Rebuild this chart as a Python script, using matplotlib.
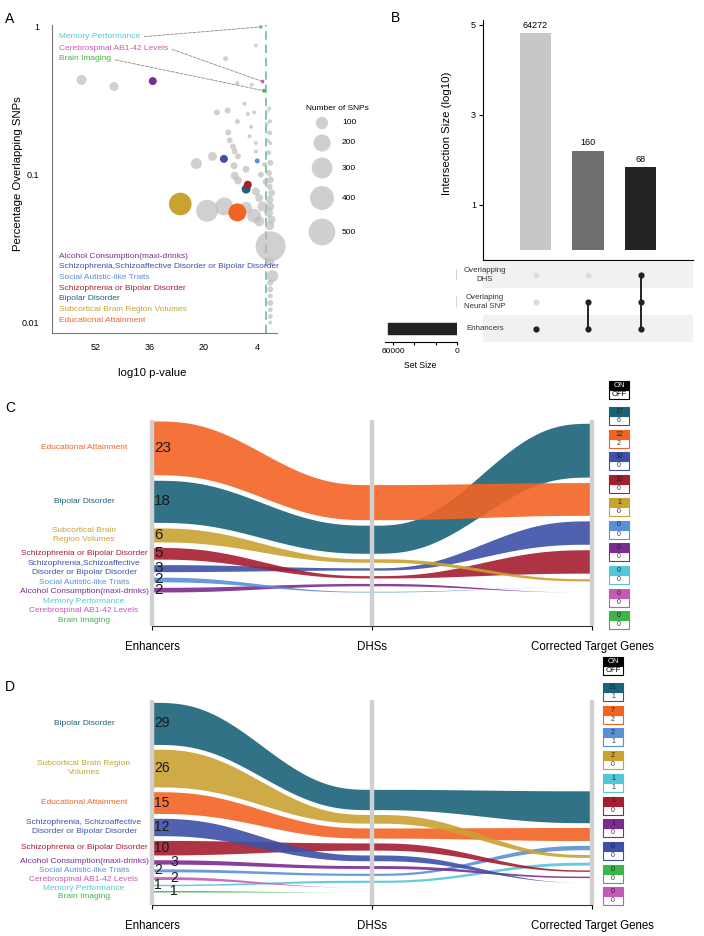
import numpy as np
import matplotlib.pyplot as plt
from matplotlib.patches import Rectangle

plt.rcParams.update({
    "font.family": ["Liberation Sans", "DejaVu Sans"],
    "axes.unicode_minus": False,
})

W, H = 704, 936

# ---------------- shared trait info ----------------
keys = ["edu", "bip", "sub", "szbp", "szsa", "aut", "alc", "mem", "csf", "img"]
trait_names = ["Educational Attainment", "Bipolar Disorder",
               "Subcortical Brain Region Volumes",
               "Schizophrenia or Bipolar Disorder",
               "Schizophrenia,Schizoaffective Disorder or Bipolar Disorder",
               "Social Autistic-like Traits", "Alcohol Consumption(maxi-drinks)",
               "Memory Performance", "Cerebrospinal AB1-42 Levels", "Brain Imaging"]
trait_colors = ["#F26424", "#1B6379", "#C9A232", "#A51D30", "#3D51A6",
                "#5B8FD6", "#7B2B91", "#55C6D6", "#C45AB5", "#3DB54A"]

# ---------------- panel A ----------------
trait_pval = [9.8, 7.2, 26.8, 6.7, 13.8, 3.9, 35.0, 2.8, 2.3, 1.9]
trait_pct = [0.0556, 0.080, 0.0634, 0.0856, 0.128, 0.124, 0.43, 1.0, 0.427, 0.37]
trait_nsnps = [223, 49, 356, 37, 37, 9, 37, 1, 1, 1]

gray_pval = [56.2, 46.5, 13.3, 4.3, 9.8, 5.5, 7.7, 15.9, 12.7, 6.7, 4.8, 9.8, 5.7,
             12.5, 6.2, 12.1, 11.1, 10.6, 4.3, 4.3, 17.2, 9.6, 22.0, 10.8, 7.2, 10.6,
             9.6, 2.8, 4.3, 3.3, 18.8, 13.7, 7.2, 4.8, 3.3, 2.3, -0.1, -0.6, 0.2, 0.0,
             0.5, 0.0, 0.4, 0.0, 0.2, -0.4, 0.2, 0.0, 0.5, -0.4, 0.2, 0.0, 0.0, 0.0,
             0.0, 0.0, 0.0, 0.0, 0.0, 0.8, 1.1, 1.1, 1.7, 1.4, 0.3, 0.1]
gray_pct = [0.438, 0.395, 0.61, 0.748, 0.417, 0.406, 0.302, 0.264, 0.272, 0.258,
            0.264, 0.229, 0.211, 0.193, 0.182, 0.171, 0.155, 0.144, 0.164, 0.144,
            0.133, 0.133, 0.119, 0.115, 0.109, 0.0985, 0.0915, 0.100, 0.077, 0.0696,
            0.0571, 0.061, 0.0598, 0.0528, 0.0484, 0.061, 0.0328, 0.0206, 0.192,
            0.164, 0.141, 0.1205, 0.103, 0.0925, 0.083, 0.0755, 0.0678, 0.0609,
            0.0554, 0.0497, 0.0452, 0.0258, 0.0186, 0.0168, 0.0151, 0.0136, 0.0122,
            0.011, 0.010, 0.17, 0.221, 0.267, 0.117, 0.0897, 0.28, 0.23]
gray_nsnps = [63, 49, 9, 2, 3, 3, 3, 17, 17, 3, 3, 9, 3, 17, 3, 17, 17, 17, 3, 3,
              49, 17, 78, 26, 26, 37, 37, 17, 37, 37, 337, 223, 94, 131, 63, 63,
              634, 94, 9, 3, 9, 17, 17, 26, 17, 26, 37, 37, 49, 37, 49, 37, 17, 17,
              9, 17, 9, 9, 3, 3, 3, 2, 9, 17, 3, 3]
size_breaks = [100, 200, 300, 400, 500]
a_top_labels = ["mem", "csf", "img"]
a_bottom_labels = ["alc", "szsa", "aut", "szbp", "bip", "sub", "edu"]

# ---------------- panel B ----------------
inter_sizes = [64272, 160, 68]
inter_colors = ["#C9C7C5", "#707070", "#232323"]
inter_members = [[2], [1, 2], [0, 1, 2]]
set_names = ["Overlapping\nDHS", "Overlaping\nNeural SNP", "Enhancers"]
set_sizes = [68, 228, 64500]

# ---------------- panel C ----------------
c_labels = ["Educational Attainment", "Bipolar Disorder",
            "Subcortical Brain\nRegion Volumes", "Schizophrenia or Bipolar Disorder",
            "Schizophrenia,Schizoaffective\nDisorder or Bipolar Disorder",
            "Social Autistic-like Traits", "Alcohol Consumption(maxi-drinks)",
            "Memory Performance", "Cerebrospinal AB1-42 Levels", "Brain Imaging"]
c_enhancers = [23, 18, 6, 5, 3, 2, 2, 0, 0, 0]
c_dhs = [15, 12, 1.5, 1, 1, 0.3, 1, 0, 0, 0]
c_on = [12, 17, 1, 10, 10, 0, 0, 0, 0, 0]
c_off = [2, 6, 0, 0, 0, 0, 0, 0, 0, 0]
c_order_enh = ["edu", "bip", "sub", "szbp", "szsa", "aut", "alc", "mem", "csf", "img"]
c_order_dhs = ["edu", "bip", "sub", "szsa", "szbp", "alc", "aut", "mem", "csf", "img"]
c_order_genes = ["bip", "edu", "szsa", "szbp", "sub", "aut", "alc", "mem", "csf", "img"]

# ---------------- panel D ----------------
d_labels = ["Educational Attainment", "Bipolar Disorder",
            "Subcortical Brain Region\nVolumes", "Schizophrenia or Bipolar Disorder",
            "Schizophrenia, Schizoaffective\nDisorder or Bipolar Disorder",
            "Social Autistic-like Traits", "Alcohol Consumption(maxi-drinks)",
            "Memory Performance", "Cerebrospinal AB1-42 Levels", "Brain Imaging"]
d_enhancers = [15, 29, 26, 10, 12, 2, 3, 1, 2, 1]
d_dhs = [7, 14, 6, 5, 4, 1.5, 2, 1.5, 0, 0]
d_on = [7, 21, 2, 1, 0, 2, 1, 1, 0, 0]
d_off = [2, 1, 0, 0, 0, 1, 0, 1, 0, 0]
d_order_enh = ["bip", "sub", "edu", "szsa", "szbp", "alc", "aut", "csf", "mem", "img"]
d_order_dhs = ["bip", "sub", "edu", "szbp", "szsa", "alc", "aut", "mem", "csf", "img"]
d_order_genes = ["bip", "edu", "aut", "sub", "mem", "szbp", "alc", "szsa", "img", "csf"]

axis_names = ["Enhancers", "DHSs", "Corrected Target Genes"]

col = dict(zip(keys, trait_colors))
name = dict(zip(keys, trait_names))

fig = plt.figure(figsize=(W / 100, H / 100), dpi=100)

ov = fig.add_axes([0, 0, 1, 1], zorder=10)
ov.set_xlim(0, W)
ov.set_ylim(H, 0)
ov.axis("off")


def px_axes(x0, y0, x1, y1):
    return fig.add_axes([x0 / W, 1 - y1 / H, (x1 - x0) / W, (y1 - y0) / H])


def snp_area(n):
    return 2.07 * (0.35 * np.asarray(n, float) + 3)


# ======================= A =======================
ax_a = px_axes(52, 25, 277, 333)
ax_a.set_yscale("log")
ax_a.axvline(1.3, color="#6cc08f", ls=(0, (5, 3)), lw=1.2, zorder=1)
ax_a.scatter(gray_pval, gray_pct, s=snp_area(gray_nsnps), color="#bdbdbd",
             alpha=0.7, lw=0, zorder=2, clip_on=False)
ax_a.scatter(trait_pval, trait_pct, s=snp_area(trait_nsnps), c=trait_colors,
             lw=0, zorder=3, clip_on=False)
ax_a.set_xlim(65, -2)
ax_a.set_ylim(0.0085, 1.03)
ax_a.set_xticks([52, 36, 20, 4])
ax_a.set_xticklabels(["52", "36", "20", "4"])
ax_a.set_yticks([1, 0.1, 0.01])
ax_a.set_yticklabels(["1", "0.1", "0.01"])
ax_a.minorticks_off()
ax_a.tick_params(axis="x", length=0, labelsize=6.5, pad=7)
ax_a.tick_params(axis="y", length=0, labelsize=6.5, pad=9)
for sp in ["top", "right"]:
    ax_a.spines[sp].set_visible(False)
for sp in ["left", "bottom"]:
    ax_a.spines[sp].set_color("#777777")

for i, k in enumerate(a_top_labels):
    j = keys.index(k)
    ax_a.annotate(name[k], xy=(trait_pval[j], trait_pct[j]),
                  xytext=(59, H - 37 - 11 * i), textcoords="figure pixels",
                  ha="left", va="center", color=col[k], fontsize=6,
                  arrowprops=dict(arrowstyle="-", ls="--", color="#8a8a8a", lw=0.6,
                                  relpos=(1, 0.5), shrinkA=1, shrinkB=0))
for i, k in enumerate(a_bottom_labels):
    ov.text(59, 256 + 10.7 * i, name[k], color=col[k], fontsize=6, va="center")

ov.text(18, 174, "Percentage Overlapping SNPs", rotation=90, ha="center",
        va="center", fontsize=8.2)
ov.text(152, 373, "log10 p-value", ha="center", va="center", fontsize=8.2)

leg_y = [123, 143, 168, 198, 232]
ov.scatter([322] * len(size_breaks), leg_y, s=snp_area(size_breaks),
           color="#cfcfcf", lw=0)
for yy, b in zip(leg_y, size_breaks):
    ov.text(342, yy, str(b), va="center", fontsize=6)
ov.text(337, 108, "Number of SNPs", ha="center", va="center", fontsize=6)

# ======================= B =======================
ax_b = px_axes(483, 20, 693, 260)
xb = np.arange(len(inter_sizes))
hb = np.log10(inter_sizes)
ax_b.bar(xb, hb, width=0.6, color=inter_colors)
for x, h, v in zip(xb, hb, inter_sizes):
    ax_b.text(x, h + 0.07, str(v), ha="center", va="bottom", fontsize=6.5)
ax_b.set_xlim(-1, 3)
ax_b.set_ylim(-0.22, 5.1)
ax_b.set_xticks([])
ax_b.set_yticks([1, 3, 5])
ax_b.tick_params(axis="y", length=3, labelsize=6.5, pad=2)
for sp in ["top", "right"]:
    ax_b.spines[sp].set_visible(False)
ov.text(447, 133, "Intersection Size (log10)", rotation=90, ha="center",
        va="center", fontsize=8.2)

ax_m = px_axes(483, 261, 693, 342)
ax_m.set_xlim(-1, 3)
ax_m.set_ylim(2.5, -0.5)
for r in (0, 2):
    ax_m.axhspan(r - 0.5, r + 0.5, color="#f0f2f2", lw=0)
for c, mem in enumerate(inter_members):
    for r in range(len(set_names)):
        ax_m.scatter(c, r, s=20, color="#222222" if r in mem else "#dddddd",
                     lw=0, zorder=3)
    if len(mem) > 1:
        ax_m.plot([c, c], [min(mem), max(mem)], color="#222222", lw=1.4, zorder=2)
ax_m.axis("off")
for r, nm in enumerate(set_names):
    ov.text(485, 275 + 27 * r, nm, ha="center", va="center", fontsize=5.7,
            linespacing=1.5, color="#333333")

ax_s = px_axes(385, 261, 457, 342)
ax_s.barh(range(len(set_sizes)), set_sizes, height=0.42, color="#222222",
          edgecolor="#222222", lw=1.0)
ax_s.set_xlim(67600, 0)
ax_s.set_ylim(2.5, -0.5)
ax_s.set_yticks([])
ax_s.set_xticks([60000, 40000, 20000, 0])
ax_s.set_xticklabels(["60000", "", "", "0"])
ax_s.tick_params(axis="x", length=2.5, labelsize=6, pad=1.5)
for sp in ["top", "right", "left"]:
    ax_s.spines[sp].set_visible(False)
ov.text(420, 366, "Set Size", ha="center", va="center", fontsize=6.2)


# ======================= C / D alluvial =======================
def stack(vals, order, gap):
    pos, y = {}, 0.0
    for k in reversed(order):
        v = vals[keys.index(k)]
        pos[k] = (y, y + v)
        y += v + gap
    return pos


def alluvial(box, base_px, kpx, gap_px, values, orders, labels, on, off,
             num_size, line_h, stagger_max, box_x, box_top):
    x0, y0, x1, y1 = box
    ax = px_axes(x0, y0, x1, y1)
    ylo, yhi = (base_px - y1) / kpx, (base_px - y0) / kpx
    gap = gap_px / kpx
    pos = [stack(v, o, gap) for v, o in zip(values, orders)]

    t = np.linspace(0, 1, 150)
    s = t ** 3 * (10 - 15 * t + 6 * t ** 2)
    for seg in range(2):
        for k in reversed(orders[0]):
            b0, t0 = pos[seg][k]
            b1, t1 = pos[seg + 1][k]
            if t0 - b0 <= 0 and t1 - b1 <= 0:
                continue
            ax.fill_between(seg + t, b0 + (b1 - b0) * s, t0 + (t1 - t0) * s,
                            color=col[k], alpha=0.9, lw=0, zorder=2)
    ax.vlines([0, 1, 2], ylo, yhi, colors="#d0d0d0", lw=3.2, zorder=4,
              clip_on=False)
    ax.set_xlim(0, 2)
    ax.set_ylim(ylo, yhi)
    ax.set_yticks([])
    ax.set_xticks([0, 1, 2])
    ax.set_xticklabels(axis_names)
    ax.tick_params(axis="x", length=3, width=0.8, labelsize=8.3, pad=8)
    for sp in ["top", "right", "left"]:
        ax.spines[sp].set_visible(False)
    ax.spines["bottom"].set_color("#333333")
    ax.spines["bottom"].set_linewidth(0.8)

    # stratum labels on the left, pushed apart when they collide
    prev_y, prev_h = None, 0
    right = True
    for k in orders[0]:
        b, tp = pos[0][k]
        cy = base_px - (b + tp) / 2 * kpx
        lab = labels[keys.index(k)]
        h = (lab.count("\n") + 1) * line_h
        ly = cy
        if prev_y is not None:
            ly = max(ly, prev_y + (prev_h + h) / 2)
        ov.text(84, ly, lab, ha="center", va="center", color=col[k], fontsize=6,
                linespacing=1.4)
        prev_y, prev_h = ly, h

        v = values[0][keys.index(k)]
        if v > 0:
            dx = 2
            if v <= stagger_max:
                dx = 18 if right else 2
                right = not right
            ov.text(x0 + dx, cy, f"{v:g}", ha="left", va="center",
                    fontsize=num_size, color="#1a1a1a", zorder=6)

    # ON / OFF boxes
    bw, hh = 20, 9
    ov.add_patch(Rectangle((box_x, box_top), bw, hh, facecolor="black",
                           edgecolor="black", lw=0.8))
    ov.text(box_x + bw / 2, box_top + hh / 2, "ON", color="white", ha="center",
            va="center", fontsize=5.5)
    ov.add_patch(Rectangle((box_x, box_top + hh), bw, hh, facecolor="white",
                           edgecolor="black", lw=0.8))
    ov.text(box_x + bw / 2, box_top + 1.5 * hh, "OFF", color="black",
            ha="center", va="center", fontsize=5.5)
    for i, k in enumerate(orders[2]):
        yb = box_top + 26 + 22.7 * i
        j = keys.index(k)
        ov.add_patch(Rectangle((box_x, yb), bw, hh, facecolor=col[k],
                               edgecolor=col[k], lw=0.8))
        ov.add_patch(Rectangle((box_x, yb + hh), bw, hh, facecolor="white",
                               edgecolor=col[k], lw=0.8))
        ov.text(box_x + bw / 2, yb + hh / 2, str(on[j]), ha="center",
                va="center", fontsize=5, color="#222222")
        ov.text(box_x + bw / 2, yb + 1.5 * hh, str(off[j]), ha="center",
                va="center", fontsize=5, color="#333333")


c_genes = [a + b for a, b in zip(c_on, c_off)]
d_genes = [a + b for a, b in zip(d_on, d_off)]

alluvial((152, 420, 592, 626), 608.5, 2.34, 5.5,
         [c_enhancers, c_dhs, c_genes], [c_order_enh, c_order_dhs, c_order_genes],
         c_labels, c_on, c_off, 11, 9.5, 0, 609, 381)
alluvial((152, 700, 592, 905), 892.0, 1.45, 4.8,
         [d_enhancers, d_dhs, d_genes], [d_order_enh, d_order_dhs, d_order_genes],
         d_labels, d_on, d_off, 10, 8.7, 3, 603, 657)

for letter, (x, y) in zip("ABCD", [(10, 19), (395, 18), (10, 408), (10, 687)]):
    ov.text(x, y, letter, fontsize=10, ha="center", va="center")

fig.savefig("out.png", dpi=100, facecolor="white")
plt.close(fig)
